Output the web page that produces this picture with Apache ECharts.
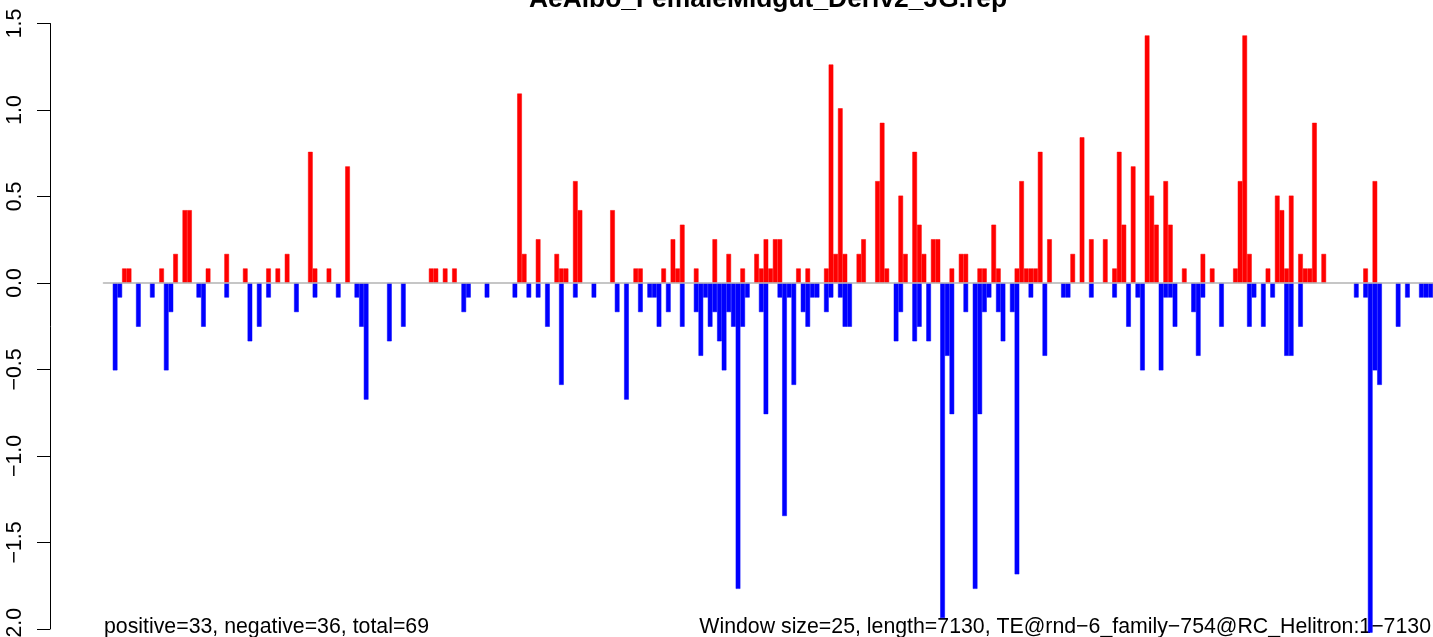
<!DOCTYPE html>
<html>
<head>
<meta charset="utf-8">
<script src="https://cdn.jsdelivr.net/npm/echarts@6/dist/echarts.min.js"></script>
<style>
	html, body { margin:0; padding:0; background:#fff; }
	#chart { width:1433px; height:637px; }
</style>
</head>
<body>
<div id="chart"></div>
<script type="text/javascript">
	// windows of 25 bp over a 7130 bp element
	var windowSize = 25;
	var windowCount = 286;

	// positive windows: index of window and value
	var posBins = [4,5,12,15,17,18,22,26,30,35, 37,39,44,45,48,52,70,71,73,75,
		89,90,93,97,98,99,101,102,109,114, 115,120,122,123,124,127,131,134,137,140,
		141,142,143,144,145,149,151,155,156,157, 158,159,162,163,166,167,168,171,172,174,
		175,176,178,179,182,184,185,188,189,191, 192,196,197,198,199,200,201,203,208,210,
		212,215,217,218,219,221,224,225,226,228, 229,232,236,238,243,244,245,246,250,252,
		253,254,255,257,258,259,260,262,271,273];
	var posValues = [0.084,0.084,0.084,0.168,0.421,0.421,0.084,0.168,0.084,0.084,
		0.084,0.168,0.758,0.084,0.084,0.674,0.084,0.084,0.084,0.084,
		1.095,0.168,0.253,0.168,0.084,0.084,0.589,0.421,0.421,0.084,
		0.084,0.084,0.253,0.084,0.337,0.084,0.253,0.168,0.084,0.168,
		0.084,0.253,0.084,0.253,0.253,0.084,0.084,0.084,1.263,0.168,
		1.010,0.168,0.168,0.253,0.589,0.926,0.084,0.505,0.168,0.758,
		0.337,0.168,0.253,0.253,0.084,0.168,0.168,0.084,0.084,0.337,
		0.084,0.084,0.589,0.084,0.084,0.084,0.758,0.253,0.168,0.842,
		0.253,0.253,0.084,0.758,0.337,0.674,1.431,0.505,0.337,0.589,
		0.337,0.084,0.168,0.084,0.084,0.589,1.431,0.168,0.084,0.505,
		0.421,0.084,0.505,0.168,0.084,0.084,0.926,0.168,0.084,0.589];

	// negative windows
	var negBins = [2,3,7,10,13,14,20,21,26,31, 33,35,41,45,50,54,55,56,61,64,
		77,78,82,88,91,93,95,98,101,105, 110,112,115,117,118,119,121,124,127,128,
		129,130,131,132,133,134,135,136,137,138, 141,142,145,146,147,148,150,151,152,153,
		155,156,158,159,160,170,171,174,175,177, 180,181,182,185,187,188,189,190,192,193,
		195,196,199,202,206,207,212,217,220,222, 223,227,228,229,230,234,235,236,240,246,
		247,249,251,254,255,257,269,271,272,273, 274,278,280,283,284,285];
	var negValues = [-0.505,-0.084,-0.253,-0.084,-0.505,-0.168,-0.084,-0.253,-0.084,-0.337,
		-0.253,-0.084,-0.168,-0.084,-0.084,-0.084,-0.253,-0.674,-0.337,-0.253,
		-0.168,-0.084,-0.084,-0.084,-0.084,-0.084,-0.253,-0.589,-0.084,-0.084,
		-0.168,-0.674,-0.168,-0.084,-0.084,-0.253,-0.168,-0.253,-0.168,-0.421,
		-0.084,-0.253,-0.168,-0.337,-0.505,-0.168,-0.253,-1.768,-0.253,-0.084,
		-0.168,-0.758,-0.084,-1.347,-0.084,-0.589,-0.168,-0.253,-0.084,-0.084,
		-0.168,-0.084,-0.084,-0.253,-0.253,-0.337,-0.168,-0.337,-0.253,-0.337,
		-1.937,-0.421,-0.758,-0.168,-1.768,-0.758,-0.168,-0.084,-0.168,-0.337,
		-0.168,-1.684,-0.084,-0.421,-0.084,-0.084,-0.084,-0.084,-0.253,-0.084,
		-0.505,-0.505,-0.084,-0.084,-0.253,-0.168,-0.421,-0.084,-0.253,-0.253,
		-0.084,-0.253,-0.084,-0.421,-0.421,-0.253,-0.084,-0.084,-2.021,-0.505,
		-0.589,-0.253,-0.084,-0.084,-0.084,-0.084];

	var yTicks = [-2.0, -1.5, -1.0, -0.5, 0.0, 0.5, 1.0, 1.5];

	var titleText = "AeAlbo_FemaleMidgut_Deriv2_JG.rep";
	var leftNote = "positive=33, negative=36, total=69";
	var rightNote = "Window size=25, length=7130, TE@rnd\u22126_family\u2212754@RC_Helitron:1\u22127130";

	var windows = [], posData = [], negData = [];
	for (var i=0;i<windowCount;i++){
		windows.push(String(i*windowSize+1));
		posData.push(null);
		negData.push(null);
	}
	for (var i=0;i<posBins.length;i++) posData[posBins[i]] = posValues[i];
	for (var i=0;i<negBins.length;i++) negData[negBins[i]] = negValues[i];

	var font = "'Liberation Sans', Arial, Helvetica, sans-serif";
	var chart = echarts.init(document.getElementById('chart'));
	var option = {
		animation:false,
		backgroundColor:'#fff',
		grid:{left:103.5, right:0, top:23.5, bottom:8, outerBoundsMode:'none', containLabel:false},
		xAxis:{
			type:'category',
			data:windows,
			boundaryGap:true,
			z:5,
			axisLine:{show:true, onZero:true, lineStyle:{color:'#b4b4b4', width:1.6}},
			axisTick:{show:false},
			axisLabel:{show:false},
			splitLine:{show:false}
		},
		yAxis:{
			type:'value',
			min:yTicks[0],
			max:yTicks[yTicks.length-1],
			interval:0.5,
			offset:53.5,
			axisLine:{show:true, lineStyle:{color:'#000', width:1}},
			axisTick:{show:true, length:13, lineStyle:{color:'#000', width:1}},
			axisLabel:{
				rotate:90, margin:24, color:'#000', fontSize:21.3, fontFamily:font,
				formatter:function(v){ return v.toFixed(1).replace('-', '\u2212'); }
			},
			splitLine:{show:false}
		},
		series:[
			{
				name:'positive', type:'bar', data:posData,
				barGap:'-100%', barCategoryGap:'0%', clip:false,
				itemStyle:{color:'#ff0000', borderColor:'#ff0000', borderWidth:0.5}
			},
			{
				name:'negative', type:'bar', data:negData,
				barGap:'-100%', barCategoryGap:'0%', clip:false,
				itemStyle:{color:'#0000ff', borderColor:'#0000ff', borderWidth:0.5}
			}
		],
		graphic:[
			{type:'text', x:768, y:12.6, style:{text:titleText, fill:'#000',
				font:"bold 26.4px "+font, textAlign:'center', textVerticalAlign:'bottom'}},
			{type:'text', x:104, y:637.7, style:{text:leftNote, fill:'#000',
				font:"21.3px "+font, textAlign:'left', textVerticalAlign:'bottom'}},
			{type:'text', x:1431, y:637.7, style:{text:rightNote, fill:'#000',
				font:"21.3px "+font, textAlign:'right', textVerticalAlign:'bottom'}}
		]
	};
	chart.setOption(option);
</script>
</body>
</html>
